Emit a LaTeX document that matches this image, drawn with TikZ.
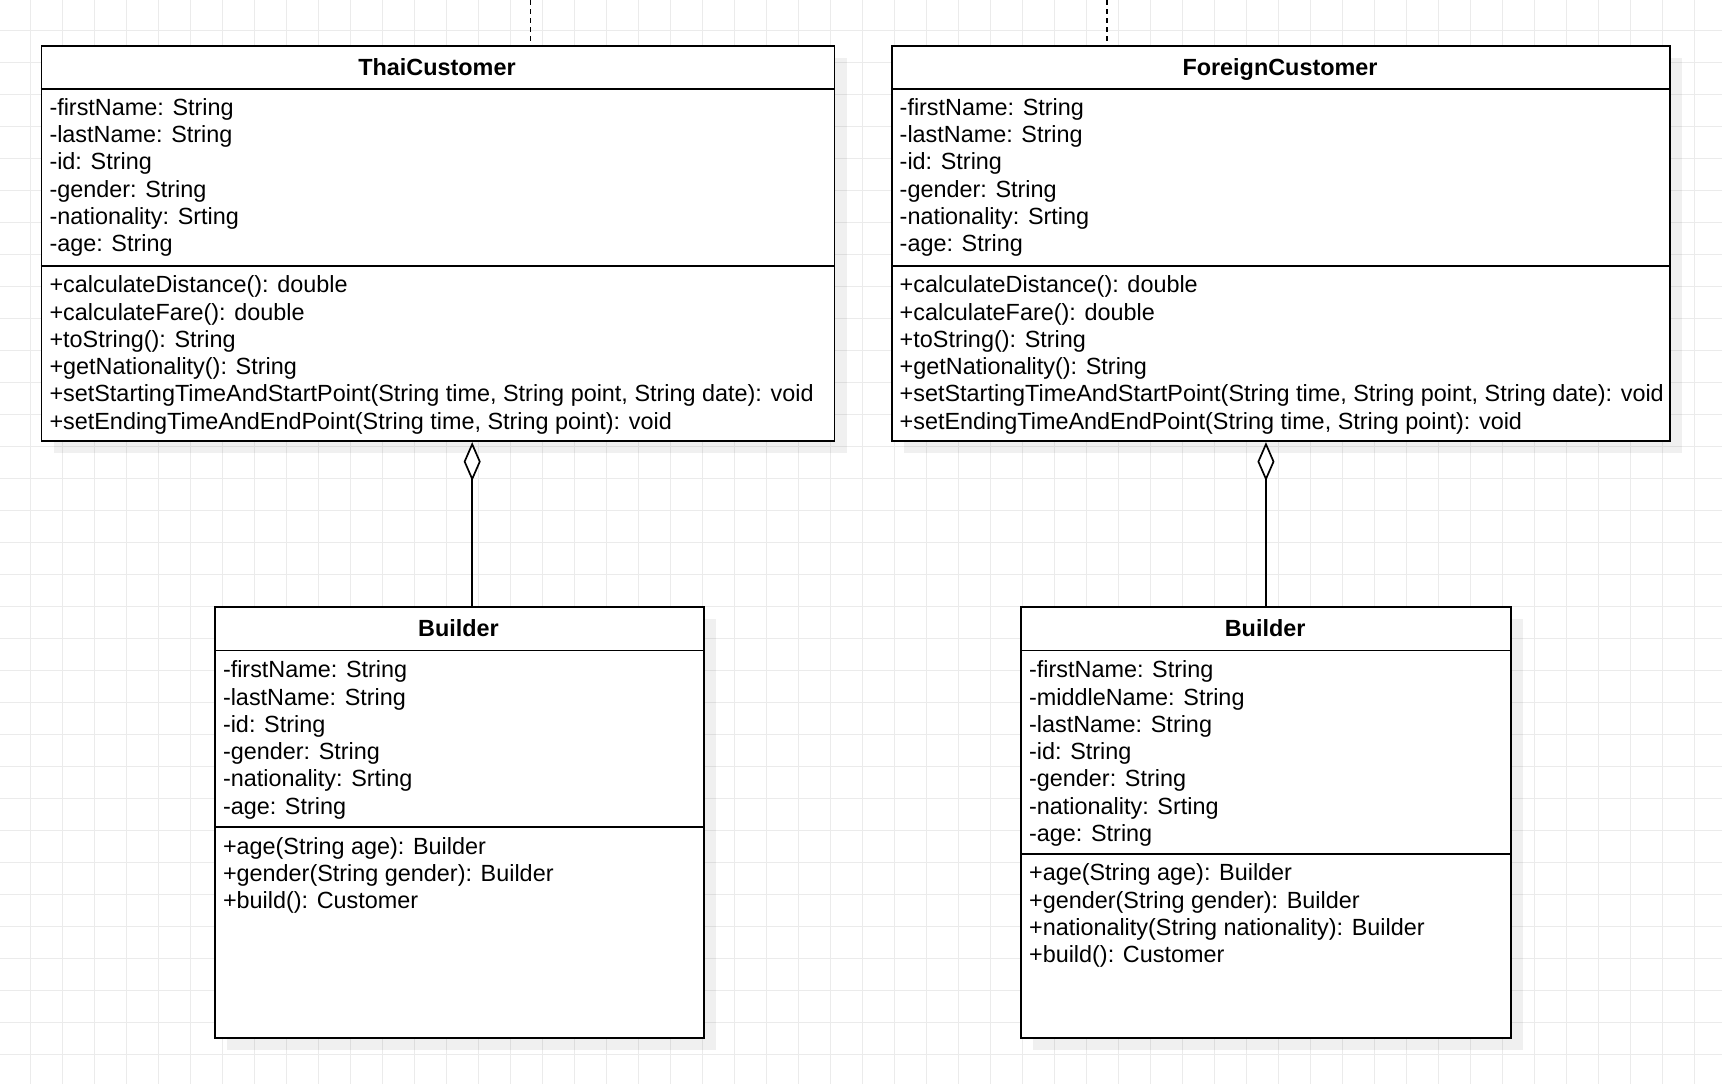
\documentclass[tikz,border=0pt]{standalone}
\usepackage{fontspec}
\setmainfont{Liberation Sans}
\usetikzlibrary{arrows.meta,positioning}

\begin{document}
\begin{tikzpicture}[x=0.5pt,y=-0.5pt,
        gridline/.style={draw=black!8,line width=0.5pt},
        shade/.style={fill=black,opacity=0.06},
        classbox/.style={draw,line width=0.85pt,fill=white,inner sep=0pt,anchor=north west},
        sep/.style={line width=0.85pt},
        title/.style={font=\fontsize{11.7}{13.65}\selectfont\bfseries,inner sep=0pt,anchor=base},
        members/.style={font=\fontsize{11.7}{13.65}\selectfont,align=left,inner sep=0pt,anchor=base west},
        aggr/.style={line width=0.85pt,-{Diamond[fill=white,length=19.5pt,width=8.5pt]}},
        dep/.style={line width=0.85pt,dash pattern=on 2.5pt off 2pt}]

        \useasboundingbox (0,0) rectangle (1722,1084);
        \fill[white] (0,0) rectangle (1722,1084);
        \foreach \i in {0,...,53} \draw[gridline] (30.3+32*\i,0) -- (30.3+32*\i,1084);
        \foreach \i in {0,...,32} \draw[gridline] (0,30.3+32*\i) -- (1722,30.3+32*\i);

        % shadows
        \fill[shade] (53.6,58) rectangle (846.5,453.4);
        \fill[shade] (903.8,58) rectangle (1682.2,453.4);
        \fill[shade] (227.1,619) rectangle (715.8,1050);
        \fill[shade] (1033.2,619) rectangle (1523,1050);

        % ThaiCustomer (member nodes sit on their last baseline)
        \node[classbox,minimum width=396.45pt,minimum height=197.7pt] (thai) at (40.6,45) {};
        \draw[sep] (40.6,89) -- (833.5,89);
        \draw[sep] (40.6,265.8) -- (833.5,265.8);
        \node[title] (thaititle) at (437,75) {ThaiCustomer};
        \node[members] (thaiattr) at (49.1,251.8) {-firstName: String\\-lastName: String\\-id: String\\-gender: String\\-nationality: Srting\\-age: String};
        \node[members] (thaiops) at (49.1,429.2) {+calculateDistance(): double\\+calculateFare(): double\\+toString(): String\\+getNationality(): String\\+setStartingTimeAndStartPoint(String time, String point, String date): void\\+setEndingTimeAndEndPoint(String time, String point): void};

        % ForeignCustomer
        \node[classbox,minimum width=389.2pt,minimum height=197.7pt] (foreign) at (890.8,45) {};
        \draw[sep] (890.8,89) -- (1669.2,89);
        \draw[sep] (890.8,265.8) -- (1669.2,265.8);
        \node[title] (foreigntitle) at (1280,75) {ForeignCustomer};
        \node[members] (foreignattr) at (899.3,251.8) {-firstName: String\\-lastName: String\\-id: String\\-gender: String\\-nationality: Srting\\-age: String};
        \node[members] (foreignops) at (899.3,429.2) {+calculateDistance(): double\\+calculateFare(): double\\+toString(): String\\+getNationality(): String\\+setStartingTimeAndStartPoint(String time, String point, String date): void\\+setEndingTimeAndEndPoint(String time, String point): void};

        % Builder (Thai)
        \node[classbox,minimum width=244.35pt,minimum height=215.5pt] (thaib) at (214.1,606) {};
        \draw[sep] (214.1,650.6) -- (702.8,650.6);
        \draw[sep] (214.1,827) -- (702.8,827);
        \node[title] (thaibtitle) at (458.5,636.5) {Builder};
        \node[members] (thaibattr) at (222.6,814.2) {-firstName: String\\-lastName: String\\-id: String\\-gender: String\\-nationality: Srting\\-age: String};
        \node[members] (thaibops) at (222.6,908.6) {+age(String age): Builder\\+gender(String gender): Builder\\+build(): Customer};

        % Builder (Foreign)
        \node[classbox,minimum width=244.9pt,minimum height=215.5pt] (foreignb) at (1020.2,606) {};
        \draw[sep] (1020.2,650.6) -- (1510,650.6);
        \draw[sep] (1020.2,853.8) -- (1510,853.8);
        \node[title] (foreignbtitle) at (1265.1,636.5) {Builder};
        \node[members] (foreignbattr) at (1028.7,841.5) {-firstName: String\\-middleName: String\\-lastName: String\\-id: String\\-gender: String\\-nationality: Srting\\-age: String};
        \node[members] (foreignbops) at (1028.7,962.7) {+age(String age): Builder\\+gender(String gender): Builder\\+nationality(String nationality): Builder\\+build(): Customer};

        % connectors
        \coordinate (thaitop) at (530.4,0);
        \coordinate (foreigntop) at (1107,0);
        \coordinate (thaiagg) at (472.2,0);
        \draw[dep] (thaitop) -- (thaitop |- thai.north);
        \draw[dep] (foreigntop) -- (foreigntop |- foreign.north);
        \draw[aggr] (thaib.north -| thaiagg) -- (thai.south -| thaiagg);
        \draw[aggr] (foreignb.north) -- (foreignb.north |- foreign.south);
    \end{tikzpicture}
\end{document}
